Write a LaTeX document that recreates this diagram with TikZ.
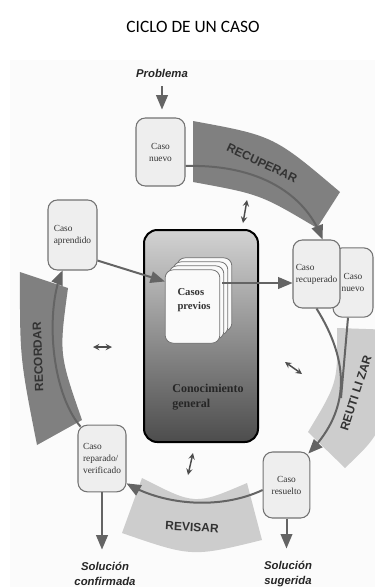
\documentclass[tikz,border=0pt]{standalone}
\usepackage{fontspec}
\setmainfont{Liberation Serif}
\setsansfont{Liberation Sans}
\newfontfamily\titlefont{Carlito}
\usetikzlibrary{shapes,arrows,calc}
\definecolor{bandDark}{RGB}{128,128,128}
\definecolor{bandLight}{RGB}{205,205,205}
\definecolor{lineGray}{RGB}{100,100,100}
\definecolor{boxFill}{RGB}{238,238,238}
\definecolor{boxBorder}{RGB}{115,115,115}

\begin{document}
\begin{tikzpicture}
[
x=0.75pt, y=-0.75pt, thick, >=triangle 45,
casebox/.style = {draw=boxBorder, fill=boxFill, line width=0.8pt, rounded corners=7pt, inner sep=1pt, font=\fontsize{7}{9}\selectfont, text=black!80},
card/.style    = {draw=boxBorder, fill=white!96!gray, line width=0.6pt, rounded corners=6pt, minimum width=41pt, minimum height=55pt},
phase/.style   = {font=\sffamily\bfseries\fontsize{9}{10}\selectfont, text=black!80},
io/.style      = {font=\sffamily\bfseries\itshape\fontsize{8.5}{11}\selectfont, align=center, text=black!85},
flow/.style    = {->, draw=lineGray, line width=1.5pt},
twoway/.style  = {<->, >=stealth, draw=black!70, line width=1.1pt},
]
\useasboundingbox (0,0) rectangle (375,587);
\clip (0,0) rectangle (375,587);
\fill[gray!3] (10,60) rectangle (375,587);

\node[font=\titlefont\fontsize{13}{15}\selectfont] (title) at (193,27) {CICLO DE UN CASO};

% the four phases
\fill[bandDark] (193,121) .. controls (273.8,135.8) .. (340,192) -- (317,228) .. controls (260.3,194.3) .. (193,182) -- cycle;
\fill[bandLight] (337,328) .. controls (337.8,382.7) .. (308,432) -- (345,468) .. controls (385,430) .. (395,330) -- cycle;
\fill[bandLight] (142,478) .. controls (195.2,505.2) .. (247,483) -- (262,540) .. controls (192,557.2) .. (122,533) -- cycle;
\fill[bandDark] (20,272) .. controls (19.8,357.8) .. (37,445) -- (82,420) .. controls (59,354) .. (68,288) -- cycle;

\node[phase, rotate=-25] (recuperar) at (262,163) {RECUPERAR};
\node[phase, rotate=72] (reutilizar) at (356,393) {REUTI LI ZAR};
\node[phase, rotate=-3] (revisar) at (192,527) {REVISAR};
\node[phase, rotate=92] (recordar) at (38,357) {RECORDAR};

% base de casos
\node[draw=black, line width=1.5pt, rounded corners=10pt, top color=gray!35, bottom color=black!70, minimum width=85.5pt, minimum height=159pt] (cono) at (201,336) {};
\foreach \k/\n in {3/card4,2/card3,1/card2,0/card1}
  \node[card] (\n) at ({192.5+4*\k},{306.5-4*\k}) {};
\node[font=\bfseries\fontsize{8}{10.5}\selectfont, align=left, text=black!80] (prevtxt) at (194,300) {Casos\\previos};
\node[font=\bfseries\fontsize{9}{11.25}\selectfont, align=left, text=black!85] (conotxt) at (208,397) {Conocimiento\\general};

% casos
\node[casebox, align=center, minimum width=36.75pt, minimum height=51pt] (nuevo) at (160.5,152) {Caso\\nuevo};
\node[casebox, align=left, minimum width=36.75pt, minimum height=52.5pt] (aprend) at (72.5,235) {Caso\\aprendido};
\node[casebox, align=center, minimum width=30pt, minimum height=52pt] (nuevo2) at (353,282.5) {Caso\\nuevo};
\node[casebox, align=left, minimum width=35.25pt, minimum height=51pt] (recup) at (316.5,274) {Caso\\recuperado};
\node[casebox, align=left, minimum width=36pt, minimum height=50pt] (reparado) at (102,458.5) {Caso\\reparado/\\verificado};
\node[casebox, align=center, minimum width=35pt, minimum height=49.5pt] (resuelto) at (286.5,485) {Caso\\resuelto};

\node[io] (problema) at (162,73) {Problema};
\node[io] (solconf) at (105,574) {Solución\\confirmada};
\node[io] (solsug) at (288,574) {Solución\\sugerida};

\coordinate (prevout) at (222,283);
\coordinate (join) at (341,398);

% ciclo
\draw[flow, shorten <=3pt, shorten >=6pt] (problema.south) -- (problema.south |- nuevo.north);
\draw[flow] ($(nuevo.east)+(0,14)$) .. controls (260,164) and (305,195) .. ($(recup.north)+(6,0)$);
\draw[flow] ($(aprend.south east)+(0,-10)$) -- ($(card1.north west)+(0,12)$);
\draw[flow] (prevout) -- (prevout -| recup.west);
\draw[flow] (recup.south) .. controls (350,362) and (350,410) .. ($(resuelto.north east)+(-2,2)$);
\draw[draw=lineGray, line width=1.5pt] ($(nuevo2.south)+(-5,0)$) -- (join);
\draw[flow] ($(resuelto.west)+(0,5)$) .. controls (220,510) and (165,505) .. ($(reparado.south east)+(0,-9)$);
\draw[flow] ($(reparado.north west)+(3,2)$) .. controls (50,390) and (46,310) .. ($(aprend.south)+(-10,0)$);
\draw[flow, shorten >=6pt] (reparado.south) -- (reparado.south |- solconf.north);
\draw[flow, shorten >=6pt] (resuelto.south) -- (resuelto.south |- solsug.north);

\draw[twoway] (247,200) -- (243,223);
\draw[twoway] (93,347) -- (112,347);
\draw[twoway] (285,362) -- (302,374);
\draw[twoway] (193,453) -- (188,475);
\end{tikzpicture}
\end{document}
